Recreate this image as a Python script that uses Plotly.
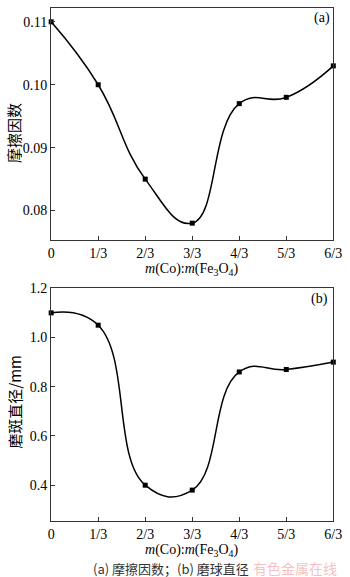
import plotly.graph_objects as go

ratio_labels = ["0", "1/3", "2/3", "3/3", "4/3", "5/3", "6/3"]
ratio_pos = [0, 1, 2, 3, 4, 5, 6]
friction_coef = [0.110, 0.100, 0.085, 0.078, 0.097, 0.098, 0.103]
scar_diameter = [1.10, 1.05, 0.40, 0.38, 0.86, 0.87, 0.90]

W, H = 350, 577
FONT = "Liberation Serif, Times New Roman, serif"
CJK = "Noto Sans CJK SC"

def py(pix):
    return 1 - pix / H

fig = go.Figure()
fig.add_trace(go.Scatter(x=ratio_pos, y=friction_coef, mode="lines+markers",
                         line=dict(shape="spline", smoothing=1.3, color="black", width=1.5),
                         marker=dict(symbol="square", size=5, color="black"),
                         xaxis="x", yaxis="y", showlegend=False, cliponaxis=False))
fig.add_trace(go.Scatter(x=ratio_pos, y=scar_diameter, mode="lines+markers",
                         line=dict(shape="spline", smoothing=1.3, color="black", width=1.5),
                         marker=dict(symbol="square", size=5, color="black"),
                         xaxis="x2", yaxis="y2", showlegend=False, cliponaxis=False))

axis_common = dict(showline=True, linecolor="#333", linewidth=1.2, mirror=True,
                   ticks="inside", ticklen=4, tickcolor="#333", showgrid=False, zeroline=False,
                   ticklabeloverflow="allow",
                   tickfont=dict(family=FONT, size=14, color="black"))

xd = [49 / W, 342 / W]
fig.update_layout(
    width=W, height=H, margin=dict(l=0, r=0, t=0, b=0), autosize=False,
    paper_bgcolor="white", plot_bgcolor="white",
    xaxis=dict(domain=xd, range=[0, 6], tickvals=ratio_pos, ticktext=ratio_labels,
               anchor="y", **axis_common),
    yaxis=dict(domain=[py(236), py(1)], range=[0.0753, 0.1122],
               tickvals=[0.08, 0.09, 0.10, 0.11], ticktext=["0.08", "0.09", "0.10", "0.11"],
               anchor="x", **axis_common),
    xaxis2=dict(domain=xd, range=[0, 6], tickvals=ratio_pos, ticktext=ratio_labels,
                anchor="y2", **axis_common),
    yaxis2=dict(domain=[py(520.7), py(284.7)], range=[0.253, 1.2],
                tickvals=[0.4, 0.6, 0.8, 1.0, 1.2], ticktext=["0.4", "0.6", "0.8", "1.0", "1.2"],
                anchor="x2", **axis_common),
)

xtitle = "<i>m</i>(Co):<i>m</i>(Fe<sub>3</sub>O<sub>4</sub>)"
ann = [
    dict(text=xtitle, x=195 / W, y=py(266), font=dict(family=FONT, size=14, color="black")),
    dict(text=xtitle, x=195 / W, y=py(550), font=dict(family=FONT, size=14, color="black")),
    dict(text="摩擦因数", x=10 / W, y=py(128), textangle=-90, font=dict(family=CJK, size=15, color="black")),
    dict(text="磨斑直径/mm", x=11 / W, y=py(400), textangle=-90, font=dict(family=CJK, size=15, color="black")),
    dict(text="(a)", x=330 / W, y=py(11), font=dict(family=FONT, size=14, color="black")),
    dict(text="(b)", x=328 / W, y=py(296), font=dict(family=FONT, size=14, color="black")),
    dict(text="(a) 摩擦因数；(b) 磨球直径", x=173 / W, y=py(568), font=dict(family=CJK, size=13, color="#333")),
    dict(text="有色金属在线", x=302 / W, y=py(568), font=dict(family=CJK, size=14, color="rgba(240,150,150,0.6)")),
]
for a in ann:
    a.update(xref="paper", yref="paper", showarrow=False, xanchor="center", yanchor="middle")
    fig.add_annotation(**a)

fig.write_html("out.html", config={"responsive": False, "displayModeBar": False})
with open("out.html", encoding="utf-8") as f:
    html = f.read()
html = html.replace("<head>", "<head><style>html,body{margin:0;padding:0;overflow:hidden;}</style>", 1)
with open("out.html", "w", encoding="utf-8") as f:
    f.write(html)
